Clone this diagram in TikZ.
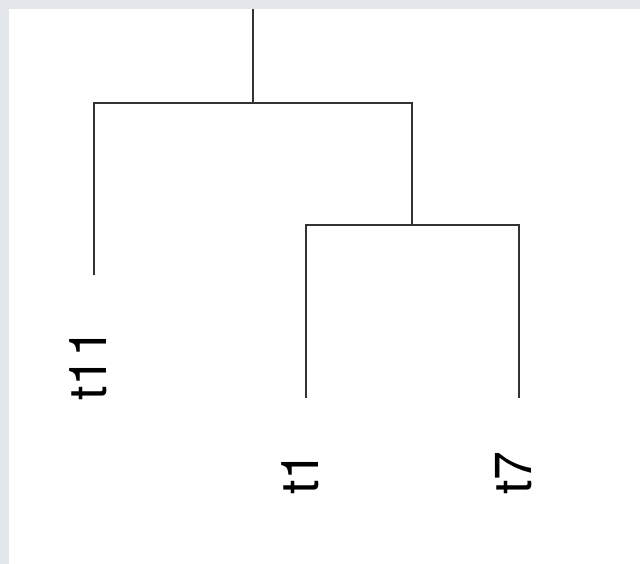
\documentclass[tikz,border=0pt]{standalone}
\usepackage{fontspec}
\newfontfamily\labfont{TeX Gyre Heros}
\usepackage{xcolor}
\usepackage{tikz}
\definecolor{framegray}{HTML}{E3E6EA}
\definecolor{linegray}{HTML}{333333}
\begin{document}
\begin{tikzpicture}[x=1pt,y=-1pt,
	branch/.style={draw=linegray,line width=2.4pt},
	leaflab/.style={rotate=90,anchor=base east,inner sep=0pt,font=\labfont\fontsize{52}{52}\selectfont}] % dendrogram
	\fill[framegray] (0,0) rectangle (640,564);
	\fill[white] (9,9) rectangle (640,564);
	\useasboundingbox (0,0) rectangle (640,564);
	
	\coordinate (top) at (253,9);
	\coordinate (n1) at (253,103);
	\coordinate (n2) at (412,225);
	\foreach \i/\x/\y in {11/94/275,1/306/398,7/519/398}{
		\coordinate (e\i) at (\x,\y);
		\node[leaflab] (t\i) at (\x+12,\y+53){t\i};
	}
	
	\draw[branch] (top)--(n1);
	\draw[branch] (e11) |- (n1) -| (n2);
	\draw[branch] (e1) |- (n2) -| (e7);
\end{tikzpicture}
\end{document}
